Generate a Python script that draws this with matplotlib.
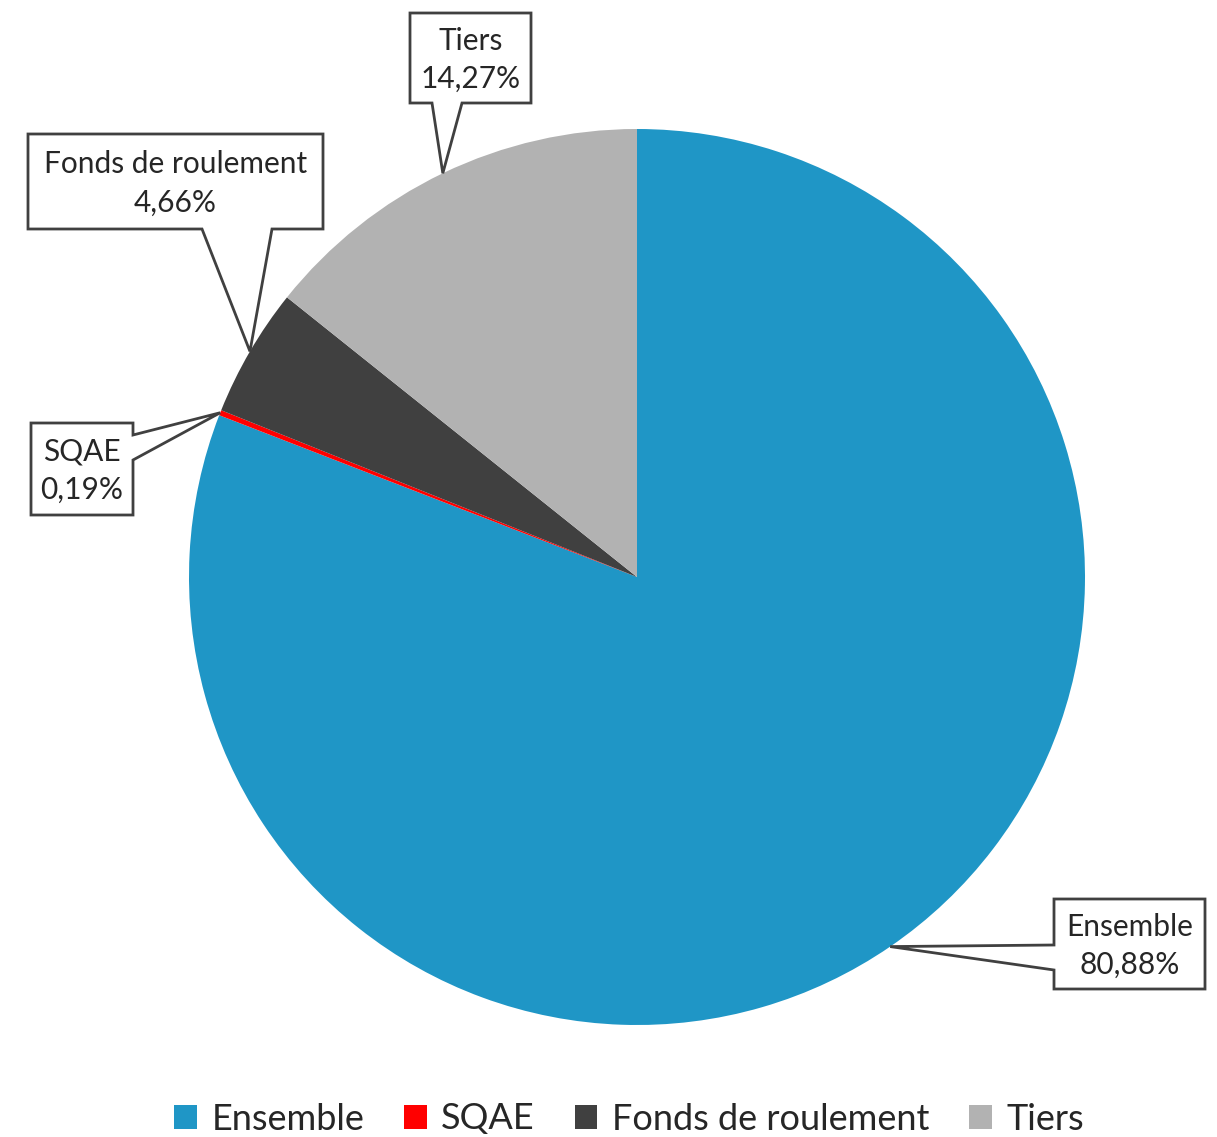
import numpy as np
import matplotlib
matplotlib.use("Agg")
import matplotlib.pyplot as plt
from matplotlib.patches import Polygon

# donnees
categories = ["Ensemble", "SQAE", "Fonds de roulement", "Tiers"]
parts = [80.88, 0.19, 4.66, 14.27]
etiquettes = ["80,88%", "0,19%", "4,66%", "14,27%"]
couleurs = ["#1F96C6", "#FF0000", "#404040", "#B2B2B2"]

W, H = 1217, 1137
plt.rcParams['font.family'] = ['Lato', 'DejaVu Sans']

fig = plt.figure(figsize=(W / 100, H / 100), dpi=100)
ax = fig.add_axes([0, 0, 1, 1])

def Y(y):
    return H - y

cx, cy, R = 637, 577, 448
wedges, _ = ax.pie(parts, colors=couleurs, startangle=90, counterclock=False,
                   center=(cx, Y(cy)), radius=R, frame=True)
ax.set_xlim(0, W)
ax.set_ylim(0, H)
ax.set_aspect('equal')
ax.axis('off')

# boites des etiquettes : (x0, y0, x1, y1, cote, base1, base2)
boites = {
    "Ensemble": (1054, 899, 1205, 989, "left", 945, 970),
    "SQAE": (31, 423, 133, 515, "right", 435, 460),
    "Fonds de roulement": (28, 134, 323, 229, "bottom", 202, 272),
    "Tiers": (410, 13, 531, 103, "bottom", 432, 462),
}

cumul = 0
for cat, p, lab in zip(categories, parts, etiquettes):
    mid = (cumul + p / 2) / 100 * 2 * np.pi
    cumul += p
    tx = cx + R * np.sin(mid)
    ty = cy - R * np.cos(mid)
    x0, y0, x1, y1, cote, b1, b2 = boites[cat]
    if cote == "bottom":
        pts = [(x0, y0), (x1, y0), (x1, y1), (b2, y1), (tx, ty), (b1, y1), (x0, y1)]
    elif cote == "right":
        pts = [(x0, y0), (x1, y0), (x1, b1), (tx, ty), (x1, b2), (x1, y1), (x0, y1)]
    else:
        pts = [(x0, y0), (x1, y0), (x1, y1), (x0, y1), (x0, b2), (tx, ty), (x0, b1)]
    pts = [(a, Y(b)) for a, b in pts]
    ax.add_patch(Polygon(pts, closed=True, facecolor="white", edgecolor="#404040",
                         linewidth=2, zorder=5))
    ax.text((x0 + x1) / 2, Y((y0 + y1) / 2 + 2), cat + "\n" + lab, ha="center", va="center",
            fontsize=21.5, color="#262626", linespacing=1.45, zorder=6)

leg = ax.legend(wedges, categories, loc="center", bbox_to_anchor=(629 / W, 1 - 1119 / H),
                ncol=4, frameon=False, fontsize=26, handlelength=0.63, handleheight=0.63,
                handletextpad=0.4, columnspacing=1.1, labelcolor="#262626")

fig.savefig("out.png", dpi=100)
